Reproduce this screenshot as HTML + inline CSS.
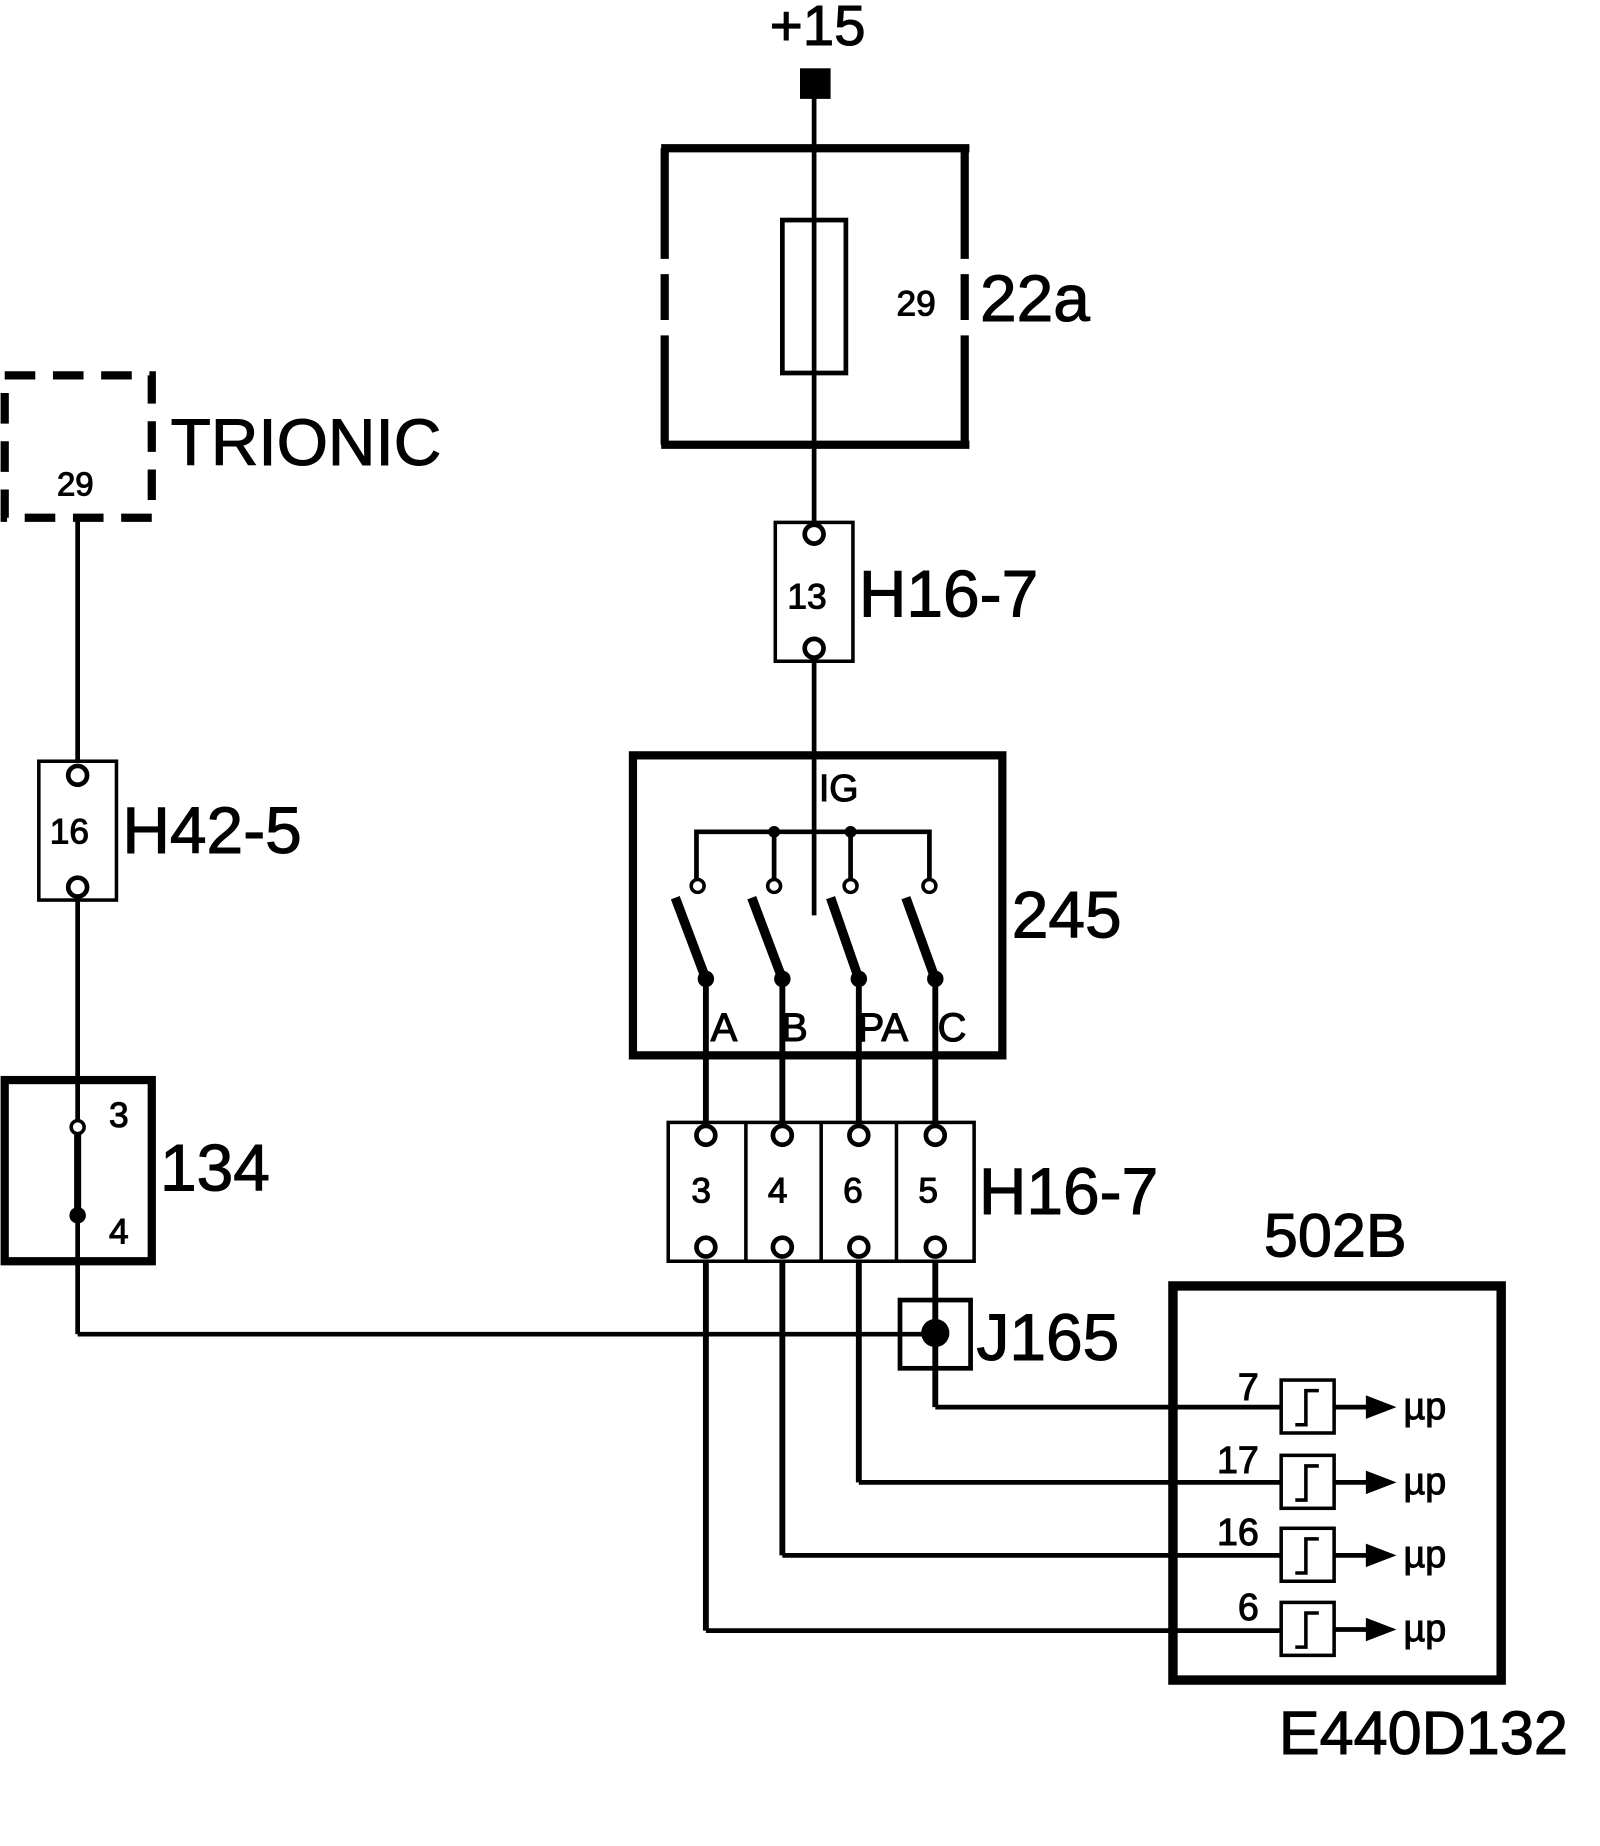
<!DOCTYPE html>
<html><head><style>html,body{margin:0;padding:0;background:#fff}svg{display:block}text{font-family:"Liberation Sans",Arial,sans-serif;fill:#000;stroke:#000;stroke-width:0.9}</style></head>
<body>
<svg width="1600" height="1846" viewBox="0 0 1360 1569" xmlns="http://www.w3.org/2000/svg">
<rect width="1360" height="1569" fill="#fff"/>
<g stroke="#000" fill="none" stroke-width="4">
<line x1="692" y1="80" x2="692" y2="444"/>
<line x1="692" y1="562" x2="692" y2="778"/>
<g stroke-width="7">
<line x1="562" y1="126" x2="824" y2="126"/>
<line x1="562" y1="378" x2="824" y2="378"/>
<line x1="565" y1="126" x2="565" y2="220"/>
<line x1="565" y1="233" x2="565" y2="272"/>
<line x1="565" y1="285" x2="565" y2="378"/>
<line x1="820" y1="126" x2="820" y2="220"/>
<line x1="820" y1="233" x2="820" y2="272"/>
<line x1="820" y1="285" x2="820" y2="378"/>
</g>
<rect x="665" y="187" width="54" height="130"/>
<rect x="4" y="319" width="125" height="121" stroke-width="7" stroke-dasharray="26,15"/>
<line x1="66" y1="441" x2="66" y2="647"/>
<line x1="66" y1="765" x2="66" y2="952"/>
<line x1="66" y1="1033" x2="66" y2="1134"/>
<rect x="33" y="647" width="66" height="118" stroke-width="3"/>
<rect x="659" y="444" width="66" height="118" stroke-width="3"/>
<rect x="538" y="642" width="314" height="255" stroke-width="7"/>
<polyline points="592,753 592,707 790,707 790,753"/>
<line x1="658" y1="707" x2="658" y2="753"/>
<line x1="723" y1="707" x2="723" y2="753"/>
<g stroke-width="8">
<line x1="574" y1="763" x2="600" y2="832"/>
<line x1="639" y1="763" x2="665" y2="832"/>
<line x1="706" y1="763" x2="730" y2="832"/>
<line x1="770" y1="763" x2="795" y2="832"/>
</g>
<g stroke-width="5">
<line x1="600" y1="832" x2="600" y2="954"/>
<line x1="665" y1="832" x2="665" y2="954"/>
<line x1="730" y1="832" x2="730" y2="954"/>
<line x1="795" y1="832" x2="795" y2="954"/>
<line x1="600" y1="1072" x2="600" y2="1386"/>
<line x1="665" y1="1072" x2="665" y2="1322"/>
<line x1="730" y1="1072" x2="730" y2="1260"/>
<line x1="795" y1="1072" x2="795" y2="1196"/>
</g>
<rect x="568" y="954" width="260" height="118" stroke-width="3"/>
<line x1="634" y1="954" x2="634" y2="1072" stroke-width="3"/>
<line x1="698" y1="954" x2="698" y2="1072" stroke-width="3"/>
<line x1="762" y1="954" x2="762" y2="1072" stroke-width="3"/>
<rect x="4" y="918" width="125" height="154" stroke-width="7"/>
<line x1="66" y1="964" x2="66" y2="1033" stroke-width="6"/>
<polyline points="66,1134 795,1134"/>
<polyline points="795,1196 1092,1196"/>
<polyline points="730,1260 1092,1260"/>
<polyline points="665,1322 1092,1322"/>
<polyline points="600,1386 1092,1386"/>
<rect x="765" y="1105" width="60" height="58" stroke-width="4"/>
<rect x="997" y="1093" width="279" height="335" stroke-width="8"/>
</g>
<rect x="680" y="58" width="26" height="26" fill="#000"/>
<g stroke="#000" stroke-width="4" fill="#fff">
<circle cx="66" cy="659" r="8"/><circle cx="66" cy="754" r="8"/>
<circle cx="692" cy="454" r="8"/><circle cx="692" cy="551" r="8"/>
<circle cx="600" cy="965" r="8"/><circle cx="665" cy="965" r="8"/><circle cx="730" cy="965" r="8"/><circle cx="795" cy="965" r="8"/>
<circle cx="600" cy="1060" r="8"/><circle cx="665" cy="1060" r="8"/><circle cx="730" cy="1060" r="8"/><circle cx="795" cy="1060" r="8"/>
<circle cx="593" cy="753" r="5.5" stroke-width="3"/><circle cx="658" cy="753" r="5.5" stroke-width="3"/><circle cx="723" cy="753" r="5.5" stroke-width="3"/><circle cx="790" cy="753" r="5.5" stroke-width="3"/>
<circle cx="66" cy="958" r="5.5" stroke-width="3"/>
</g>
<g fill="#000">
<circle cx="658" cy="707" r="5"/><circle cx="723" cy="707" r="5"/>
<circle cx="600" cy="832" r="7"/><circle cx="665" cy="832" r="7"/><circle cx="730" cy="832" r="7"/><circle cx="795" cy="832" r="7"/>
<circle cx="66" cy="1033" r="7"/>
<circle cx="795" cy="1133" r="12"/>
</g>
<g stroke="#000" stroke-width="3" fill="#fff">
<rect x="1089" y="1173" width="45" height="45"/>
<rect x="1089" y="1237" width="45" height="45"/>
<rect x="1089" y="1299" width="45" height="45"/>
<rect x="1089" y="1362" width="45" height="45"/>
</g>
<g stroke="#000" stroke-width="3" fill="none">
<polyline points="1101,1211 1110,1211 1110,1182 1121,1182"/>
<polyline points="1101,1275 1110,1275 1110,1246 1121,1246"/>
<polyline points="1101,1337 1110,1337 1110,1308 1121,1308"/>
<polyline points="1101,1400 1110,1400 1110,1371 1121,1371"/>
<line x1="1134" y1="1196" x2="1165" y2="1196" stroke-width="4"/>
<line x1="1134" y1="1260" x2="1165" y2="1260" stroke-width="4"/>
<line x1="1134" y1="1322" x2="1165" y2="1322" stroke-width="4"/>
<line x1="1134" y1="1385" x2="1165" y2="1385" stroke-width="4"/>
</g>
<g fill="#000">
<polygon points="1161,1186 1187,1196 1161,1206"/>
<polygon points="1161,1250 1187,1260 1161,1270"/>
<polygon points="1161,1312 1187,1322 1161,1332"/>
<polygon points="1161,1375 1187,1385 1161,1395"/>
</g>
<text x="695" y="38" font-size="48" text-anchor="middle">+15</text>
<text x="762" y="268" font-size="30">29</text>
<text x="833" y="273" font-size="56">22a</text>
<text x="145" y="395" font-size="56">TRIONIC</text>
<text x="64" y="421" font-size="28" text-anchor="middle">29</text>
<text x="59" y="717" font-size="30" text-anchor="middle">16</text>
<text x="104" y="725" font-size="56">H42-5</text>
<text x="686" y="517" font-size="30" text-anchor="middle">13</text>
<text x="730" y="524" font-size="56">H16-7</text>
<text x="696" y="681" font-size="32">IG</text>
<text x="604" y="885" font-size="34">A</text>
<text x="664" y="885" font-size="34">B</text>
<text x="729" y="885" font-size="34">PA</text>
<text x="797" y="885" font-size="34">C</text>
<text x="860" y="797" font-size="56">245</text>
<text x="596" y="1022" font-size="30" text-anchor="middle">3</text>
<text x="661" y="1022" font-size="30" text-anchor="middle">4</text>
<text x="725" y="1022" font-size="30" text-anchor="middle">6</text>
<text x="789" y="1022" font-size="30" text-anchor="middle">5</text>
<text x="832" y="1032" font-size="56">H16-7</text>
<text x="101" y="958" font-size="30" text-anchor="middle">3</text>
<text x="101" y="1057" font-size="30" text-anchor="middle">4</text>
<text x="136" y="1012" font-size="56">134</text>
<text x="830" y="1156" font-size="56">J165</text>
<text x="1135" y="1068" font-size="52" text-anchor="middle">502B</text>
<text x="1070" y="1190" font-size="32" text-anchor="end">7</text>
<text x="1070" y="1252" font-size="32" text-anchor="end">17</text>
<text x="1070" y="1313" font-size="32" text-anchor="end">16</text>
<text x="1070" y="1377" font-size="32" text-anchor="end">6</text>
<text x="1193" y="1206" font-size="32">µp</text>
<text x="1193" y="1270" font-size="32">µp</text>
<text x="1193" y="1332" font-size="32">µp</text>
<text x="1193" y="1395" font-size="32">µp</text>
<text x="1087" y="1491" font-size="52">E440D132</text>
</svg>
</body></html>
